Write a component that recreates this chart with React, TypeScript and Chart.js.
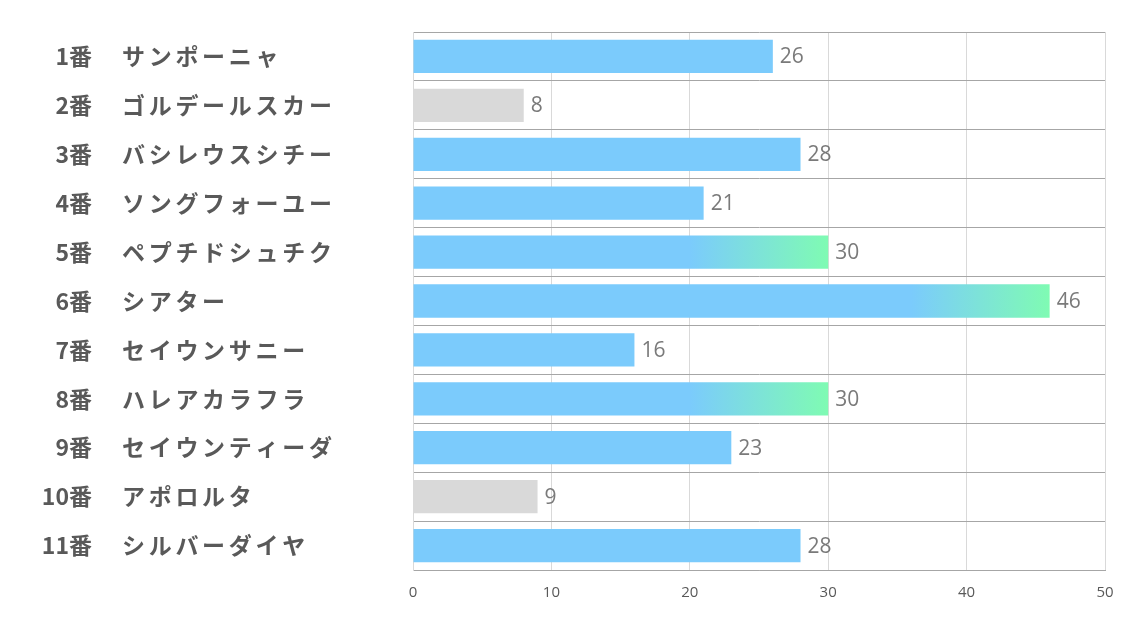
import React, { useEffect, useRef } from "react";
import { Chart, registerables } from "chart.js";

Chart.register(...registerables);

const numbers = ["1番", "2番", "3番", "4番", "5番", "6番", "7番", "8番", "9番", "10番", "11番"];
const names = [
  "サンポーニャ",
  "ゴルデールスカー",
  "バシレウスシチー",
  "ソングフォーユー",
  "ペプチドシュチク",
  "シアター",
  "セイウンサニー",
  "ハレアカラフラ",
  "セイウンティーダ",
  "アポロルタ",
  "シルバーダイヤ",
];
const values = [26, 8, 28, 21, 30, 46, 16, 30, 23, 9, 28];
// "blue" | "gray" | "grad"
const barKinds = ["blue", "gray", "blue", "blue", "grad", "grad", "blue", "grad", "blue", "gray", "blue"];
const xTicks = [0, 10, 20, 30, 40, 50];

const BLUE = "#7bcbfc";
const GREEN = "#7ffbb3";
const GRAY = "#d9d9d9";
const NUM_FONT = '"Open Sans", sans-serif';

export default function App() {
  const ref = useRef<HTMLCanvasElement | null>(null);
  useEffect(() => {
    const canvas = ref.current;
    if (!canvas) return;

    const labelPlugin = {
      id: "labels",
      afterDatasetsDraw(chart: any) {
        const ctx = chart.ctx;
        const meta = chart.getDatasetMeta(0);
        ctx.save();
        ctx.font = "21px " + NUM_FONT;
        ctx.fillStyle = "#7a7a7a";
        ctx.textBaseline = "middle";
        ctx.textAlign = "left";
        meta.data.forEach((el: any, i: number) => {
          ctx.fillText(String(values[i]), el.x + 7, el.y + 1);
        });
        ctx.restore();

        const ys = chart.scales.y;
        ctx.save();
        ctx.fillStyle = "#595959";
        ctx.textBaseline = "middle";
        ctx.font = 'bold 23px "Noto Sans CJK JP", sans-serif';
        numbers.forEach((n, i) => {
          const y = ys.getPixelForValue(i);
          ctx.textAlign = "right";
          (ctx as any).letterSpacing = "0px";
          ctx.fillText(n, 92, y);
          ctx.textAlign = "left";
          (ctx as any).letterSpacing = "3.7px";
          ctx.fillText(names[i], 122, y);
        });
        ctx.restore();
      },
    };

    const chart = new Chart(canvas, {
      type: "bar",
      data: {
        labels: names,
        datasets: [
          {
            data: values,
            backgroundColor: (c: any) => {
              const i = c.dataIndex;
              const kind = barKinds[i];
              if (kind === "gray") return GRAY;
              if (kind === "blue") return BLUE;
              const xs = c.chart.scales?.x;
              if (!xs) return BLUE;
              const v = values[i];
              const x0 = xs.getPixelForValue(v - 10);
              const x1 = xs.getPixelForValue(v);
              const g = c.chart.ctx.createLinearGradient(x0, 0, x1, 0);
              g.addColorStop(0, BLUE);
              g.addColorStop(1, GREEN);
              return g;
            },
            borderWidth: 0,
            categoryPercentage: 1,
            barPercentage: 0.68,
          },
        ],
      },
      options: {
        indexAxis: "y",
        responsive: false,
        animation: false,
        maintainAspectRatio: false,
        layout: { padding: { left: 413, right: 29, top: 32, bottom: 7 } },
        plugins: {
          legend: { display: false },
          tooltip: { enabled: false },
          title: { display: false },
        },
        scales: {
          x: {
            min: 0,
            max: 50,
            afterBuildTicks: (axis: any) => {
              axis.ticks = xTicks.map((v) => ({ value: v }));
            },
            grid: { color: "#d9d9d9", drawTicks: false, lineWidth: 1 },
            border: { color: "#a6a6a6", width: 1 },
            ticks: {
              padding: 14,
              color: "#595959",
              font: { family: NUM_FONT, size: 15 },
            },
          },
          y: {
            grid: { color: "#a6a6a6", drawTicks: false, offset: true, lineWidth: 1 },
            border: { color: "#d9d9d9", width: 1 },
            ticks: { display: false },
          },
        },
      },
      plugins: [labelPlugin],
    } as any);
    return () => chart.destroy();
  }, []);

  return (
    <div style={{ position: "fixed", left: 0, top: 0, width: 1134, height: 623, background: "#fff" }}>
      <canvas ref={ref} width={1134} height={623} style={{ display: "block" }} />
    </div>
  );
}
